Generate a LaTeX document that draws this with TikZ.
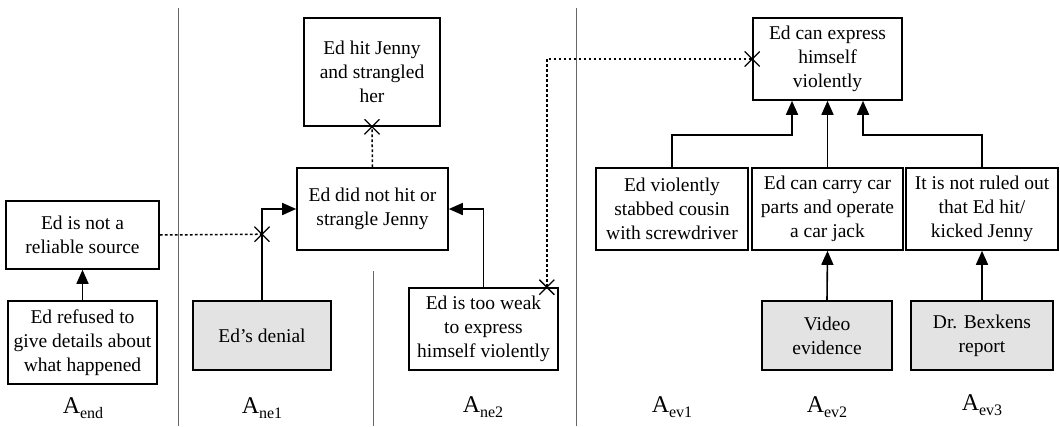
\documentclass[tikz,border=0pt]{standalone}
\usepackage{fontspec}
\setmainfont{Liberation Serif}
\usetikzlibrary{arrows.meta,calc}

\tikzset{
  arg/.style={draw=black, line width=1.6pt, align=center, inner sep=0pt,
    font=\fontsize{19.5}{24}\selectfont, text=black},
  evid/.style={arg, fill=gray!22},
  arr/.style={line width=1.6pt, -{Triangle[length=14pt,width=12pt]}},
  attack/.style={line width=1.5pt, dash pattern=on 2.8pt off 2.2pt},
  sep/.style={line width=0.9pt, black!60},
  lbl/.style={font=\fontsize{24}{28}\selectfont, text=black},
  cross/.style={line width=1.3pt}
}
\newcommand{\xmark}[1]{\draw[cross] ($(#1)+(-7.5,-7.5)$) -- ($(#1)+(7.5,7.5)$) ($(#1)+(-7.5,7.5)$) -- ($(#1)+(7.5,-7.5)$);}
\newcommand{\argsub}[1]{A\raisebox{-5pt}{\fontsize{16}{19}\selectfont #1}}

\begin{document}
\begin{tikzpicture}[x=1pt,y=-1pt]
\useasboundingbox (0,0) rectangle (1060,426);

% column separators
\draw[sep] (178,8) -- (178,426);
\draw[sep] (373,271) -- (373,426);
\draw[sep] (576,8) -- (576,426);

% arguments
\node[arg, minimum width=153pt, minimum height=68pt] (rel) at (82.5,235) {Ed is not a\\reliable source};
\node[arg, minimum width=149pt, minimum height=83pt] (refused) at (82.5,342.5) {Ed refused to\\give details about\\what happened};
\node[evid, minimum width=138pt, minimum height=69pt] (denial) at (262,335.5) {Ed’s denial};
\node[arg, minimum width=151pt, minimum height=82pt] (nothit) at (372.5,209) {Ed did not hit or\\strangle Jenny};
\node[arg, minimum width=136pt, minimum height=108pt] (hit) at (372,72) {Ed hit Jenny\\and strangled\\her};
\node[arg, minimum width=149pt, minimum height=82pt] (weak) at (483.5,329) {Ed is too weak\\to express\\himself violently};
\node[arg, minimum width=149pt, minimum height=82pt] (canexp) at (827.5,59) {Ed can express\\himself\\violently};
\node[arg, minimum width=152pt, minimum height=82pt] (stab) at (672,209) {Ed violently\\stabbed cousin\\with screwdriver};
\node[arg, minimum width=151pt, minimum height=82pt] (carry) at (827.5,209) {Ed can carry car\\parts and operate\\a car jack};
\node[arg, minimum width=152pt, minimum height=82pt] (ruled) at (982,209) {It is not ruled out\\that Ed hit/\\kicked Jenny};
\node[evid, minimum width=130pt, minimum height=69pt] (video) at (827,335.5) {Video\\evidence};
\node[evid, minimum width=142pt, minimum height=69pt] (bex) at (982,335.5) {Dr. Bexkens\\report};

% column labels
\node[lbl] (lend) at (83,408) {\argsub{end}};
\node[lbl] (lne1) at (262,408) {\argsub{ne1}};
\node[lbl] (lne2) at (483,407) {\argsub{ne2}};
\node[lbl] (lev1) at (672,407) {\argsub{ev1}};
\node[lbl] (lev2) at (827,407) {\argsub{ev2}};
\node[lbl] (lev3) at (982,405) {\argsub{ev3}};

% support
\draw[arr] (refused.north) -- (rel.south);
\draw[arr] (denial.north) |- (nothit.west);
\draw[arr] (weak.north) |- (nothit.east);
\draw[arr] (stab.north) |- ($(canexp.south)+(-35.5,34)$) -- ([xshift=-35.5pt]canexp.south);
\draw[arr] (carry.north) -- (canexp.south);
\draw[arr] (ruled.north) |- ($(canexp.south)+(35.5,34)$) -- ([xshift=35.5pt]canexp.south);
\draw[arr] (video.north) -- (carry.south);
\draw[arr] (bex.north) -- (ruled.south);

% attacks
\coordinate (undercut) at ($(denial.north)+(0,-66)$);
\draw[attack] (rel.east) -- (undercut);
\xmark{undercut}
\draw[attack] (nothit.north) -- (hit.south);
\xmark{hit.south}
\coordinate (weakx) at ($(weak.north east)+(-12,0)$);
\draw[attack] (weakx) |- (canexp.west);
\xmark{weakx}
\xmark{canexp.west}
\end{tikzpicture}
\end{document}
